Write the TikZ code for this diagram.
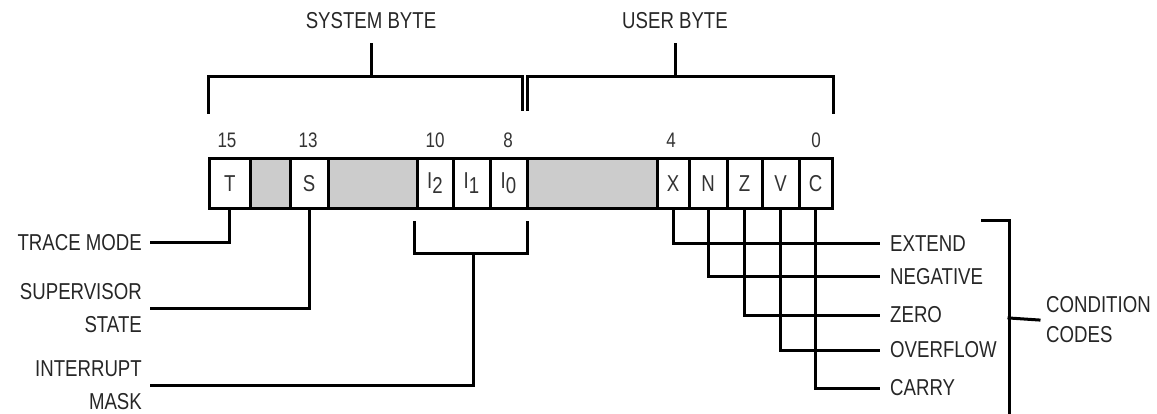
\documentclass[tikz,border=0pt]{standalone}
\usepackage{fontspec}
\setmainfont{Liberation Sans}[FakeStretch=0.81]
\begin{document}
\begin{tikzpicture}[x=1pt,y=-1pt,
  wire/.style={line width=3pt, line join=miter, line cap=rect},
  cell/.style={draw, line width=3pt, minimum height=50pt, inner sep=0pt, fill=white,
    font=\fontsize{23}{23}\selectfont, text=black!80},
  pad/.style={cell, fill=gray!40},
  lbl/.style={font=\fontsize{23}{33}\selectfont, text=black!85, inner sep=0pt},
  bit/.style={font=\fontsize{21}{21}\selectfont, text=black!80, inner sep=0pt},
]
\useasboundingbox (0,0) rectangle (1157,414);

% register cells
\node[cell, minimum width=40.5pt] (T)  at (229.75,183.5) {T};
\node[pad,  minimum width=40pt]   (g1) at (270,183.5) {};
\node[cell, minimum width=38pt]   (S)  at (309,183.5) {S};
\node[pad,  minimum width=89pt]   (g2) at (372.5,183.5) {};
\node[cell, minimum width=36pt]   (I2) at (435,183.5) {I\raisebox{-5pt}{2}};
\node[cell, minimum width=37pt]   (I1) at (471.5,183.5) {I\raisebox{-5pt}{1}};
\node[cell, minimum width=37pt]   (I0) at (508.5,183.5) {I\raisebox{-5pt}{0}};
\node[pad,  minimum width=130pt]  (g3) at (592,183.5) {};
\node[cell, minimum width=32pt]   (X)  at (673,183.5) {X};
\node[cell, minimum width=38pt]   (N)  at (708,183.5) {N};
\node[cell, minimum width=35pt]   (Z)  at (744.5,183.5) {Z};
\node[cell, minimum width=37pt]   (V)  at (780.5,183.5) {V};
\node[cell, minimum width=33pt]   (C)  at (815.5,183.5) {C};

% bit numbers
\node[bit] (b15) at (227,140) {15};
\node[bit] (b13) at (308,140) {13};
\node[bit] (b10) at (435,140) {10};
\node[bit] (b8)  at (508,140) {8};
\node[bit] (b4)  at (671,140) {4};
\node[bit] (b0)  at (816,140) {0};

% byte brackets
\node[lbl] (sys) at (371,21) {SYSTEM BYTE};
\node[lbl] (usr) at (675,21) {USER BYTE};
\coordinate (sysL) at (208,113);
\coordinate (sysR) at (522,110);
\coordinate (usrL) at (527,110);
\coordinate (usrR) at (833,113);
\draw[wire] (sysL) |- (sysR |- 0,77) -- (sysR);
\draw[wire] (sys.south |- 0,77) -- ([yshift=-15pt]sys.south);
\draw[wire] (usrL) |- (usrR |- 0,77) -- (usrR);
\draw[wire] (usr.south |- 0,77) -- ([yshift=-15pt]usr.south);

% left labels
\node[lbl, anchor=east, align=right] (tm) at (142,243) {TRACE MODE};
\node[lbl, anchor=east, align=right] (sv) at (142,308.5) {SUPERVISOR\\STATE};
\node[lbl, anchor=east, align=right] (im) at (142,385) {INTERRUPT\\MASK};
\draw[wire] (T.south) |- ([xshift=9pt]tm.east);
\draw[wire] (S.south) |- ([xshift=9pt]sv.east);
\coordinate (imL) at (414,223);
\coordinate (imR) at (527,223);
\draw[wire] (imL) |- (imR |- 0,254) -- (imR);
\draw[wire] (473,254) |- ([xshift=9pt]im.east);

% right labels
\node[lbl, anchor=west] (ext) at (890,244) {EXTEND};
\node[lbl, anchor=west] (neg) at (890,277) {NEGATIVE};
\node[lbl, anchor=west] (zer) at (890,315) {ZERO};
\node[lbl, anchor=west] (ovf) at (890,350) {OVERFLOW};
\node[lbl, anchor=west] (car) at (890,388) {CARRY};
\draw[wire] (X.south) |- ([xshift=-12pt]ext.west);
\draw[wire] (N.south) |- ([xshift=-12pt]neg.west);
\draw[wire] (Z.south) |- ([xshift=-12pt]zer.west);
\draw[wire] (V.south) |- ([xshift=-12pt]ovf.west);
\draw[wire] (C.south) |- ([xshift=-12pt]car.west);

% condition codes bracket
\node[lbl, anchor=west, align=left, font=\fontsize{23}{30}\selectfont] (cc) at (1046,320) {CONDITION\\CODES};
\coordinate (ccT) at (982,221);
\coordinate (ccB) at (1009,414);
\draw[wire] (ccT) -| (ccB);
\draw[wire] (1009,318) -- ([xshift=-7pt]cc.west);
\end{tikzpicture}
\end{document}
